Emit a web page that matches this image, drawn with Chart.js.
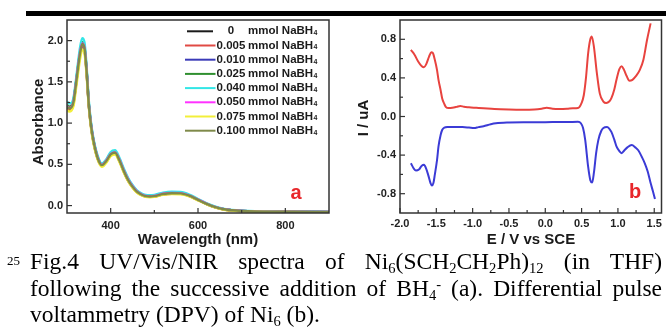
<!DOCTYPE html>
<html>
<head>
<meta charset="utf-8">
<script src="https://cdn.jsdelivr.net/npm/chart.js@4.4.1/dist/chart.umd.min.js"></script>
<style>
  html, body { margin: 0; padding: 0; background: #fff; }
  body { width: 666px; height: 329px; position: relative; overflow: hidden; }
  #bar { position: absolute; left: 26px; top: 11px; width: 640px; height: 5px; background: #000; }
  #ca { position: absolute; left: 0; top: 0; }
  #cb { position: absolute; left: 340px; top: 0; }
  #cap { position: absolute; left: 30px; top: 248px; width: 632px;
         font-family: "Liberation Serif", "Times New Roman", serif; font-size: 23.5px; line-height: 26.7px; color: #000; }
  #cap * { font-family: "Liberation Serif", "Times New Roman", serif; }
  #cap .ln { white-space: nowrap; }
  #cap .j { text-align: justify; text-align-last: justify; white-space: normal; }
  #cap sub { font-size: 0.62em; vertical-align: -0.28em; line-height: 0; }
  #cap sup { font-size: 0.62em; vertical-align: 0.45em; line-height: 0; }
  #num { position: absolute; left: -23px; font-size: 13px; }
</style>
</head>
<body>
<div id="bar"></div>
<canvas id="ca" width="340" height="255"></canvas>
<canvas id="cb" width="326" height="255"></canvas>
<div id="cap">
  <div class="ln j" style="position:relative"><span id="num">25</span>Fig.4 UV/Vis/NIR spectra of Ni<sub>6</sub>(SCH<sub>2</sub>CH<sub>2</sub>Ph)<sub>12</sub> (in THF)</div>
  <div class="ln j">following the successive addition of BH<sub>4</sub><sup>-</sup> (a). Differential pulse</div>
  <div class="ln">voltammetry (DPV) of Ni<sub>6</sub> (b).</div>
</div>
<script>
// ---------- Panel (a): UV/Vis/NIR spectra ----------
const wavelength = [300,305,310,315,320,325,330,335,340,345,350,355,360,370,380,390,400,410,420,430,440,450,460,470,480,490,500,520,540,560,580,600,620,640,660,700,800,900];
const seriesLabels = ['0','0.005','0.010','0.025','0.040','0.050','0.075','0.100'];
const abs_0     = [1.19,1.17,1.18,1.25,1.44,1.65,1.84,1.95,1.90,1.61,1.21,0.96,0.79,0.575,0.485,0.535,0.615,0.635,0.545,0.415,0.305,0.226,0.166,0.132,0.112,0.107,0.112,0.137,0.147,0.145,0.117,0.068,0.018,-0.022,-0.047,-0.066,-0.076,-0.079];
const abs_0005  = [1.17,1.155,1.165,1.235,1.43,1.64,1.83,1.94,1.89,1.60,1.21,0.96,0.79,0.57,0.48,0.53,0.61,0.63,0.54,0.41,0.30,0.222,0.163,0.129,0.11,0.105,0.11,0.134,0.144,0.142,0.115,0.066,0.017,-0.023,-0.048,-0.067,-0.077,-0.079];
const abs_0010  = [1.21,1.19,1.20,1.27,1.46,1.67,1.86,1.97,1.92,1.63,1.23,0.98,0.805,0.585,0.495,0.545,0.625,0.645,0.555,0.425,0.315,0.234,0.173,0.138,0.118,0.113,0.118,0.143,0.153,0.151,0.122,0.072,0.021,-0.019,-0.044,-0.064,-0.074,-0.077];
const abs_0025  = [1.22,1.20,1.21,1.28,1.47,1.68,1.87,1.98,1.93,1.64,1.235,0.985,0.81,0.59,0.50,0.55,0.63,0.65,0.56,0.43,0.32,0.236,0.175,0.14,0.12,0.115,0.12,0.145,0.155,0.153,0.124,0.073,0.022,-0.018,-0.044,-0.064,-0.074,-0.077];
const abs_0040  = [1.26,1.24,1.24,1.31,1.50,1.72,1.92,2.03,1.98,1.68,1.27,1.01,0.83,0.61,0.51,0.56,0.65,0.67,0.58,0.45,0.335,0.25,0.185,0.15,0.13,0.125,0.13,0.157,0.168,0.165,0.134,0.08,0.027,-0.014,-0.041,-0.062,-0.073,-0.076];
const abs_0050  = [1.205,1.185,1.195,1.265,1.455,1.665,1.855,1.965,1.915,1.625,1.225,0.975,0.805,0.585,0.495,0.545,0.625,0.645,0.555,0.425,0.315,0.234,0.173,0.138,0.118,0.113,0.118,0.143,0.153,0.151,0.122,0.072,0.021,-0.019,-0.044,-0.064,-0.074,-0.077];
const abs_0075  = [1.16,1.14,1.15,1.21,1.39,1.59,1.78,1.89,1.85,1.57,1.19,0.94,0.77,0.56,0.47,0.52,0.60,0.62,0.53,0.40,0.295,0.215,0.158,0.125,0.105,0.10,0.105,0.13,0.14,0.138,0.112,0.063,0.015,-0.025,-0.05,-0.068,-0.077,-0.08];
const abs_0100  = [1.20,1.18,1.19,1.26,1.45,1.66,1.85,1.96,1.91,1.62,1.22,0.97,0.80,0.58,0.49,0.54,0.62,0.64,0.55,0.42,0.31,0.23,0.17,0.135,0.115,0.11,0.115,0.14,0.15,0.148,0.12,0.07,0.02,-0.02,-0.045,-0.065,-0.075,-0.078];
const seriesColors = ['#1a1a1a','#e04a44','#3b3bb8','#2f8f2f','#33e6e6','#ff33ff','#f2ef3a','#7f8a4a'];
const aXTicks = [400,600,800];
const aXMinor = [500,700];
const aYTicks = [0.0,0.5,1.0,1.5,2.0];
const aYMinor = [0.25,0.75,1.25,1.75];

// ---------- Panel (b): DPV ----------
const ox_E = [-1.85,-1.80,-1.75,-1.70,-1.67,-1.64,-1.60,-1.57,-1.55,-1.52,-1.49,-1.47,-1.44,-1.42,-1.39,-1.37,-1.33,-1.28,-1.22,-1.17,-1.12,-1.05,-0.95,-0.85,-0.70,-0.50,-0.32,-0.15,-0.05,0.02,0.10,0.20,0.30,0.38,0.45,0.50,0.53,0.56,0.59,0.62,0.64,0.67,0.71,0.75,0.80,0.84,0.88,0.91,0.95,0.98,1.02,1.05,1.08,1.12,1.16,1.20,1.25,1.30,1.35,1.40,1.45];
const ox_I = [0.69,0.64,0.57,0.52,0.51,0.54,0.62,0.665,0.66,0.585,0.48,0.38,0.27,0.19,0.13,0.10,0.087,0.09,0.10,0.11,0.10,0.095,0.09,0.085,0.077,0.072,0.07,0.072,0.08,0.09,0.08,0.077,0.08,0.085,0.087,0.14,0.22,0.40,0.655,0.80,0.83,0.72,0.45,0.24,0.155,0.14,0.155,0.19,0.28,0.38,0.49,0.52,0.49,0.42,0.37,0.38,0.42,0.48,0.585,0.79,0.965];
const red_E = [-1.85,-1.81,-1.78,-1.74,-1.70,-1.67,-1.64,-1.61,-1.58,-1.56,-1.54,-1.52,-1.49,-1.47,-1.44,-1.42,-1.39,-1.35,-1.25,-1.14,-1.05,-0.98,-0.92,-0.85,-0.75,-0.68,-0.50,-0.30,-0.10,0.10,0.30,0.45,0.49,0.52,0.55,0.59,0.62,0.645,0.67,0.70,0.73,0.77,0.80,0.85,0.88,0.91,0.95,0.98,1.02,1.05,1.09,1.13,1.19,1.24,1.28,1.33,1.37,1.41,1.45,1.48,1.51];
const red_I = [-0.485,-0.54,-0.56,-0.55,-0.51,-0.50,-0.54,-0.61,-0.69,-0.715,-0.69,-0.60,-0.45,-0.31,-0.19,-0.14,-0.115,-0.11,-0.11,-0.11,-0.115,-0.12,-0.11,-0.10,-0.08,-0.07,-0.062,-0.06,-0.06,-0.058,-0.058,-0.055,-0.07,-0.12,-0.245,-0.52,-0.66,-0.685,-0.58,-0.38,-0.245,-0.15,-0.12,-0.11,-0.125,-0.16,-0.24,-0.31,-0.36,-0.38,-0.35,-0.32,-0.295,-0.32,-0.35,-0.42,-0.485,-0.57,-0.69,-0.77,-0.855];
const bXTicks = [-2.0,-1.5,-1.0,-0.5,0.0,0.5,1.0,1.5];
const bXMinor = [-1.75,-1.25,-0.75,-0.25,0.25,0.75,1.25];
const bYTicks = [-0.8,-0.4,0.0,0.4,0.8];
const bYMinor = [-0.6,-0.2,0.2,0.6];

const FONT = '"Liberation Sans", Arial, sans-serif';
const toXY = (xs, ys) => xs.map((x, i) => ({x, y: ys[i]}));

const framePlugin = {
  id: 'frame',
  afterDraw(chart, args, o) {
    const {ctx, chartArea: a, scales} = chart;
    const xs = scales.x, ys = scales.y;
    ctx.save();
    ctx.strokeStyle = '#333';
    ctx.lineWidth = 1.5;
    ctx.strokeRect(a.left, a.top, a.right - a.left, a.bottom - a.top);
    ctx.lineWidth = 1.2;
    const seg = (x1, y1, x2, y2) => { ctx.beginPath(); ctx.moveTo(x1, y1); ctx.lineTo(x2, y2); ctx.stroke(); };
    o.xMajor.forEach(v => { const p = xs.getPixelForValue(v); seg(p, a.bottom, p, a.bottom - 5); });
    o.xMinor.forEach(v => { const p = xs.getPixelForValue(v); seg(p, a.bottom, p, a.bottom - 3); });
    o.yMajor.forEach(v => { const p = ys.getPixelForValue(v); seg(a.left, p, a.left + 5, p); });
    o.yMinor.forEach(v => { const p = ys.getPixelForValue(v); seg(a.left, p, a.left + 3, p); });
    ctx.fillStyle = '#1a1a1a';
    ctx.font = 'bold 15px ' + FONT;
    ctx.textAlign = 'center';
    ctx.textBaseline = 'middle';
    ctx.fillText(o.xTitle, o.xTitlePos[0], o.xTitlePos[1]);
    ctx.save();
    ctx.translate(o.yTitlePos[0], o.yTitlePos[1]);
    ctx.rotate(-Math.PI / 2);
    ctx.fillText(o.yTitle, 0, 0);
    ctx.restore();
    ctx.fillStyle = '#e8262a';
    ctx.font = 'bold 20px ' + FONT;
    ctx.fillText(o.letter, o.letterPos[0], o.letterPos[1]);
    if (o.legend) {
      chart.data.datasets.forEach((ds, i) => {
        const y = 31.3 + i * 14.2;
        ctx.strokeStyle = ds.borderColor;
        ctx.lineWidth = 2;
        seg(i === 0 ? 187 : 185, y, i === 0 ? 213 : 215.5, y);
        ctx.fillStyle = '#1a1a1a';
        ctx.font = 'bold 11.5px ' + FONT;
        ctx.textAlign = 'center';
        ctx.fillText(ds.label, 231, y);
        ctx.textAlign = 'left';
        const t = 'mmol NaBH';
        ctx.fillText(t, 248, y);
        const w = ctx.measureText(t).width;
        ctx.font = 'bold 7px ' + FONT;
        ctx.fillText('4', 248 + w + 0.3, y + 2);
      });
    }
    ctx.restore();
  }
};

function makeScales(xMin, xMax, yMin, yMax, xT, yT, fx, fy, yWidth, xHeight, xPad) {
  const tickFont = {family: FONT, weight: 'bold', size: 11};
  return {
    x: {
      type: 'linear', min: xMin, max: xMax,
      grid: {display: false, drawTicks: false}, border: {display: false},
      afterBuildTicks: s => { s.ticks = xT.map(v => ({value: v})); },
      afterFit: s => { s.height = xHeight; },
      ticks: {font: tickFont, color: '#222', padding: xPad, maxRotation: 0, autoSkip: false, callback: fx}
    },
    y: {
      type: 'linear', min: yMin, max: yMax,
      grid: {display: false, drawTicks: false}, border: {display: false},
      afterBuildTicks: s => { s.ticks = yT.map(v => ({value: v})); },
      afterFit: s => { s.width = yWidth; },
      ticks: {font: tickFont, color: '#222', padding: 4, autoSkip: false, callback: fy}
    }
  };
}

const absSeries = [abs_0, abs_0005, abs_0010, abs_0025, abs_0040, abs_0050, abs_0075, abs_0100];

new Chart(document.getElementById('ca'), {
  type: 'line',
  data: {
    datasets: absSeries.map((arr, i) => ({
      label: seriesLabels[i],
      data: toXY(wavelength, arr),
      borderColor: seriesColors[i],
      borderWidth: 2.4,
      pointRadius: 0,
      order: absSeries.length - i,
      cubicInterpolationMode: 'monotone',
      fill: false
    }))
  },
  options: {
    responsive: false, animation: false, devicePixelRatio: 1,
    layout: {padding: {left: 0, top: 20, right: 11, bottom: 0}},
    scales: makeScales(300, 900, -0.09, 2.25, aXTicks, aYTicks, v => String(v), v => Number(v).toFixed(1), 67, 42, 6),
    plugins: {
      legend: {display: false}, tooltip: {enabled: false},
      frame: {xMajor: aXTicks, xMinor: aXMinor, yMajor: aYTicks, yMinor: aYMinor,
              xTitle: 'Wavelength (nm)', xTitlePos: [198, 240], yTitle: 'Absorbance', yTitlePos: [39, 122],
              letter: 'a', letterPos: [296, 193], legend: true}
    }
  },
  plugins: [framePlugin]
});

new Chart(document.getElementById('cb'), {
  type: 'line',
  data: {
    datasets: [
      {label: 'oxidation', data: toXY(ox_E, ox_I), borderColor: '#e8433f', borderWidth: 2, pointRadius: 0, cubicInterpolationMode: 'monotone', fill: false},
      {label: 'reduction', data: toXY(red_E, red_I), borderColor: '#3b3bd6', borderWidth: 2, pointRadius: 0, cubicInterpolationMode: 'monotone', fill: false}
    ]
  },
  options: {
    responsive: false, animation: false, devicePixelRatio: 1,
    layout: {padding: {left: 0, top: 20, right: 4, bottom: 0}},
    scales: makeScales(-2.0, 1.6, -1.0, 1.0, bXTicks, bYTicks, v => Number(v).toFixed(1), v => Number(v).toFixed(1), 60, 42, 4),
    plugins: {
      legend: {display: false}, tooltip: {enabled: false},
      frame: {xMajor: bXTicks, xMinor: bXMinor, yMajor: bYTicks, yMinor: bYMinor,
              xTitle: 'E / V vs SCE', xTitlePos: [191, 240], yTitle: 'I / uA', yTitlePos: [24, 118],
              letter: 'b', letterPos: [295, 192], legend: false}
    }
  },
  plugins: [framePlugin]
});
</script>
</body>
</html>
